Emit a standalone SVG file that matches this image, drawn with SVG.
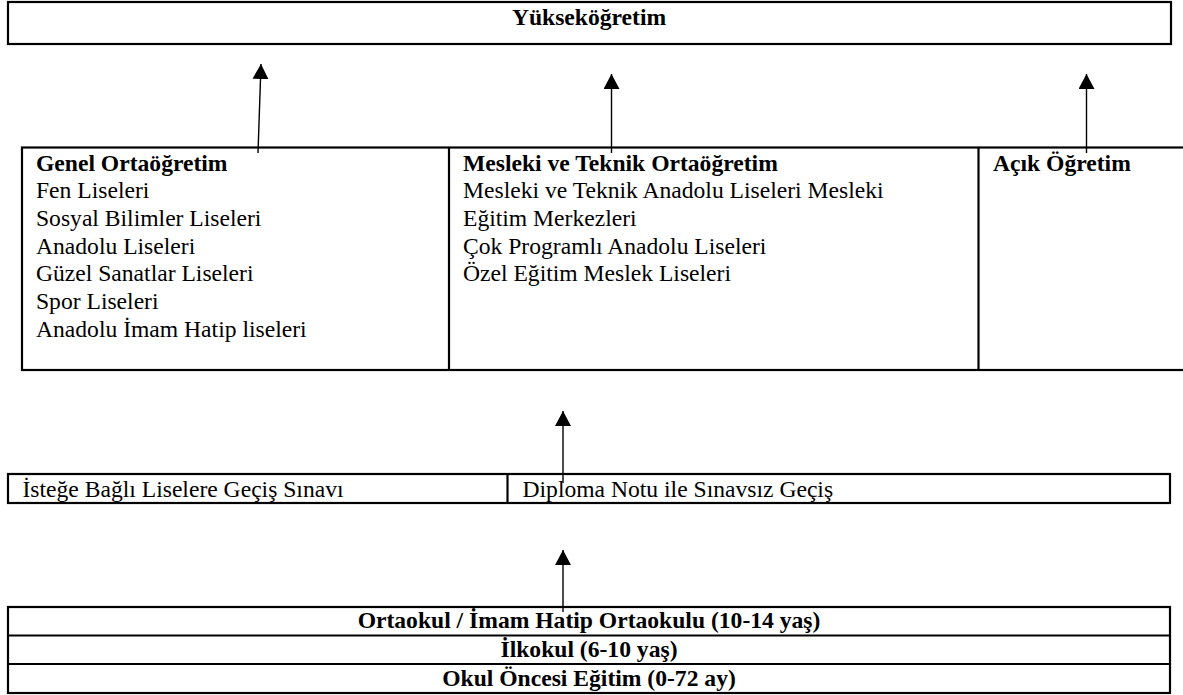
<svg xmlns="http://www.w3.org/2000/svg" width="1183" height="695" viewBox="0 0 1183 695">
<style>
.box{fill:#fff;stroke:#000;stroke-width:2.2}
.div{stroke:#000;stroke-width:2.2}
.t{font-family:"Liberation Serif","Times New Roman",serif;font-size:23.6px;fill:#000}
.b{font-weight:bold}
.c{text-anchor:middle}
.con{stroke:#000;stroke-width:1.4;fill:none;marker-end:url(#ah)}
</style>
<defs>
<marker id="ah" markerUnits="userSpaceOnUse" markerWidth="18" markerHeight="18" refX="15" refY="8" orient="auto">
<path d="M0,0 L15,8 L0,16 z" fill="#000"/>
</marker>
</defs>
<rect width="1183" height="695" fill="#fff"/>
<g id="yuksekogretim">
<rect class="box" x="8" y="2" width="1163" height="42"/>
<text class="t b c" x="589" y="25">Yükseköğretim</text>
</g>
<g id="ortaogretim">
<rect class="box" x="22" y="147.5" width="1200" height="222.5"/>
<line class="div" x1="449" y1="147.5" x2="449" y2="370"/>
<line class="div" x1="978.5" y1="147.5" x2="978.5" y2="370"/>
</g>
<g id="genel">
<text class="t" x="36" y="170.5"><tspan class="b" x="36">Genel Ortaöğretim</tspan><tspan x="36" dy="27.7">Fen Liseleri</tspan><tspan x="36" dy="27.7">Sosyal Bilimler Liseleri</tspan><tspan x="36" dy="27.7">Anadolu Liseleri</tspan><tspan x="36" dy="27.7">Güzel Sanatlar Liseleri</tspan><tspan x="36" dy="27.7">Spor Liseleri</tspan><tspan x="36" dy="27.7">Anadolu İmam Hatip liseleri</tspan></text>
</g>
<g id="mesleki">
<text class="t" x="463" y="170.5"><tspan class="b" x="463">Mesleki ve Teknik Ortaöğretim</tspan><tspan x="463" dy="27.7">Mesleki ve Teknik Anadolu Liseleri Mesleki</tspan><tspan x="463" dy="27.7">Eğitim Merkezleri</tspan><tspan x="463" dy="27.7">Çok Programlı Anadolu Liseleri</tspan><tspan x="463" dy="27.7">Özel Eğitim Meslek Liseleri</tspan></text>
</g>
<g id="acik">
<text class="t b" x="993" y="170.5">Açık Öğretim</text>
</g>
<g id="gecis">
<rect class="box" x="8" y="474" width="1162" height="29"/>
<line class="div" x1="507.5" y1="474" x2="507.5" y2="503"/>
<text class="t" x="22.5" y="497">İsteğe Bağlı Liselere Geçiş Sınavı</text>
<text class="t" x="522.5" y="497">Diploma Notu ile Sınavsız Geçiş</text>
</g>
<g id="temel">
<rect class="box" x="8" y="607" width="1162" height="86"/>
<line class="div" x1="8" y1="635.5" x2="1170" y2="635.5"/>
<line class="div" x1="8" y1="664" x2="1170" y2="664"/>
<text class="t b c" x="589" y="628">Ortaokul / İmam Hatip Ortaokulu (10-14 yaş)</text>
<text class="t b c" x="589" y="656.5">İlkokul (6-10 yaş)</text>
<text class="t b c" x="589" y="685.5">Okul Öncesi Eğitim (0-72 ay)</text>
</g>
<g id="connectors">
<line class="con" x1="258" y1="153" x2="261" y2="64"/>
<line class="con" x1="611.5" y1="153" x2="611.5" y2="74"/>
<line class="con" x1="1086.5" y1="153" x2="1086.5" y2="74"/>
<line class="con" x1="563" y1="483" x2="563" y2="411"/>
<line class="con" x1="563" y1="612" x2="563" y2="550"/>
</g>
</svg>
